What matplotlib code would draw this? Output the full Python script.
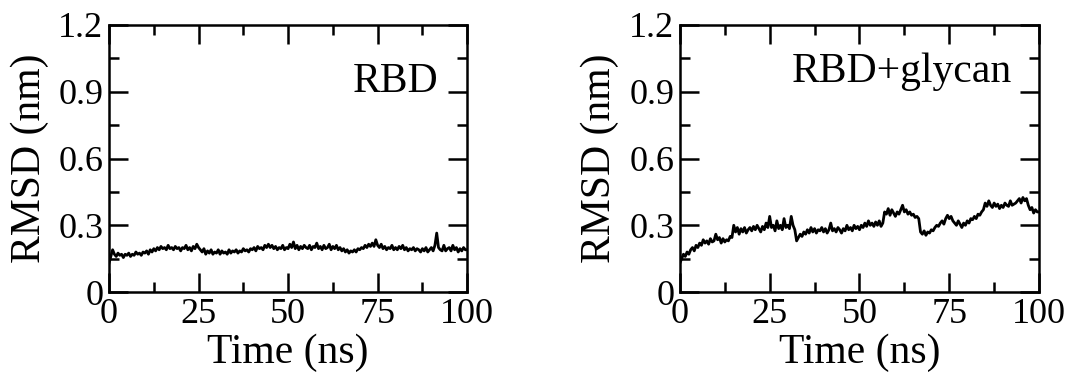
import numpy as np
import matplotlib
matplotlib.use('Agg')
import matplotlib.pyplot as plt
from matplotlib.ticker import MultipleLocator, FormatStrFormatter

# time axis, 0.5 ns steps
time_ns = np.arange(0, 100.5, 0.5)

rmsd_rbd = [
    0.13, 0.16, 0.19, 0.17, 0.16, 0.175, 0.165, 0.17, 0.155, 0.17,
    0.165, 0.175, 0.16, 0.17, 0.165, 0.18, 0.17, 0.175, 0.165, 0.18,
    0.175, 0.185, 0.17, 0.19, 0.18, 0.195, 0.185, 0.2, 0.19, 0.205,
    0.195, 0.2, 0.19, 0.21, 0.195, 0.2, 0.19, 0.205, 0.195, 0.2,
    0.185, 0.2, 0.195, 0.21, 0.19, 0.2, 0.185, 0.205, 0.195, 0.215,
    0.2, 0.19, 0.18, 0.195, 0.17, 0.185, 0.175, 0.19, 0.17, 0.18,
    0.175, 0.19, 0.17, 0.185, 0.175, 0.18, 0.17, 0.19, 0.175, 0.185,
    0.18, 0.19, 0.175, 0.185, 0.18, 0.195, 0.185, 0.19, 0.18, 0.195,
    0.19, 0.2, 0.185, 0.205, 0.195, 0.2, 0.19, 0.21, 0.2, 0.215,
    0.2, 0.21, 0.195, 0.205, 0.19, 0.2, 0.195, 0.21, 0.19, 0.2,
    0.195, 0.215, 0.2, 0.225, 0.195, 0.21, 0.19, 0.205, 0.195, 0.21,
    0.2, 0.195, 0.21, 0.19, 0.205, 0.2, 0.22, 0.195, 0.205, 0.19,
    0.21, 0.195, 0.2, 0.215, 0.19, 0.205, 0.195, 0.21, 0.19, 0.2,
    0.185, 0.195, 0.18, 0.19, 0.175, 0.185, 0.18, 0.19, 0.18, 0.195,
    0.19, 0.2, 0.195, 0.21, 0.2, 0.215, 0.205, 0.22, 0.205, 0.235,
    0.21, 0.2, 0.215, 0.195, 0.205, 0.19, 0.2, 0.195, 0.21, 0.19,
    0.2, 0.19, 0.205, 0.195, 0.21, 0.19, 0.2, 0.185, 0.195, 0.19,
    0.2, 0.185, 0.195, 0.19, 0.18, 0.195, 0.185, 0.2, 0.18, 0.19,
    0.2, 0.185, 0.21, 0.265, 0.2, 0.19, 0.185, 0.21, 0.185, 0.195,
    0.2, 0.185, 0.21, 0.19, 0.2, 0.18, 0.195, 0.185, 0.2, 0.19,
    0.19,
]

rmsd_glycan = [
    0.13, 0.15, 0.17, 0.16, 0.18, 0.17, 0.19, 0.2, 0.185, 0.21,
    0.2, 0.22, 0.21, 0.235, 0.22, 0.23, 0.215, 0.24, 0.225, 0.23,
    0.26, 0.235, 0.245, 0.22, 0.24, 0.225, 0.235, 0.23, 0.25, 0.245,
    0.3, 0.27, 0.29, 0.26, 0.285, 0.27, 0.29, 0.265, 0.28, 0.29,
    0.275, 0.295, 0.28, 0.3, 0.285, 0.27, 0.295, 0.28, 0.31, 0.29,
    0.34, 0.29, 0.3, 0.275, 0.32, 0.285, 0.3, 0.28, 0.33, 0.29,
    0.3, 0.285, 0.34, 0.3, 0.28, 0.23, 0.245, 0.26, 0.25, 0.27,
    0.26, 0.28, 0.265, 0.29, 0.27, 0.285, 0.265, 0.28, 0.275, 0.29,
    0.27, 0.285, 0.265, 0.28, 0.31, 0.275, 0.285, 0.27, 0.29, 0.28,
    0.265, 0.285, 0.275, 0.3, 0.28, 0.29, 0.275, 0.3, 0.285, 0.295,
    0.28, 0.3, 0.29, 0.31, 0.295, 0.32, 0.3, 0.31, 0.295, 0.315,
    0.3, 0.32, 0.295, 0.31, 0.36, 0.35, 0.375, 0.345, 0.37, 0.355,
    0.34, 0.36, 0.35, 0.37, 0.39, 0.36, 0.37, 0.35, 0.36, 0.345,
    0.35, 0.335, 0.34, 0.33, 0.27, 0.26, 0.275, 0.255, 0.27, 0.265,
    0.28, 0.275, 0.29, 0.3, 0.295, 0.31, 0.32, 0.305, 0.33, 0.345,
    0.33, 0.34, 0.32, 0.31, 0.3, 0.32, 0.305, 0.29, 0.31, 0.3,
    0.32, 0.31, 0.33, 0.325, 0.34, 0.33, 0.35, 0.345, 0.36, 0.37,
    0.4, 0.385, 0.41, 0.39, 0.38, 0.4, 0.385, 0.395, 0.375, 0.39,
    0.38, 0.4, 0.39, 0.385, 0.41, 0.39, 0.395, 0.4, 0.41, 0.42,
    0.4, 0.425, 0.41, 0.42, 0.39, 0.37, 0.38, 0.355, 0.37, 0.36,
    0.36,
]

panel_labels = ['RBD', 'RBD+glycan']

plt.rcParams['font.family'] = ['Liberation Serif', 'DejaVu Serif']

fig = plt.figure(figsize=(10.69, 3.73), dpi=100)
ax1 = fig.add_axes([0.102, 0.217, 0.335, 0.716])
ax2 = fig.add_axes([0.636, 0.217, 0.336, 0.716])

series = [rmsd_rbd, rmsd_glycan]
label_pos = [(0.92, 0.75), (0.925, 0.786)]

for ax, y, name, pos in zip([ax1, ax2], series, panel_labels, label_pos):
    ax.plot(time_ns, y, color='black', lw=2.0)
    ax.set_xlim(0, 100)
    ax.set_ylim(0, 1.2)
    ax.xaxis.set_major_locator(MultipleLocator(25))
    ax.xaxis.set_minor_locator(MultipleLocator(12.5))
    ax.yaxis.set_major_locator(MultipleLocator(0.3))
    ax.yaxis.set_minor_locator(MultipleLocator(0.15))
    ax.yaxis.set_major_formatter(FormatStrFormatter('%g'))
    ax.tick_params(which='both', direction='in', top=True, right=True,
                   width=1.8, labelsize=26, pad=4)
    ax.tick_params(which='major', length=14)
    ax.tick_params(which='minor', length=7)
    for s in ax.spines.values():
        s.set_linewidth(1.8)
    ax.set_xlabel('Time (ns)', fontsize=30, labelpad=2)
    ax.set_ylabel('RMSD (nm)', fontsize=30, labelpad=7)
    ax.text(pos[0], pos[1], name, transform=ax.transAxes, fontsize=30,
            ha='right', va='baseline')

plt.savefig('out.png', dpi=100)
